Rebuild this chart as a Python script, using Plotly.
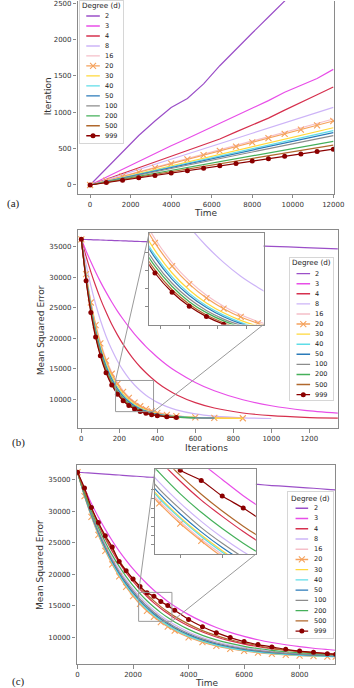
import plotly.graph_objects as go

W, H = 354, 688

# ---------------- data ----------------
DEGREES = ["2", "3", "4", "8", "16", "20", "30", "40", "50", "100", "200", "500", "999"]
COLORS = ['#9b4fc8', '#e84ee8', '#d6304e', '#cdb4f7', '#f5bfc9', '#f5a25d', '#ffd83a',
          '#5fdde8', '#2a7ab9', '#8c8c8c', '#45b05a', '#b0682d', '#8b0000']

# (a) Iteration vs Time
TIME_A = [0, 800, 1600, 2400, 3200, 4000, 4800, 5600, 6400, 7200, 8000, 8800, 9600, 10400, 11200, 12000]
A_D2 = [0, 225, 455, 680, 880, 1065, 1190, 1390, 1640, 1870, 2090, 2310, 2530, 2750, 2970, 3190]
A_D3 = [0, 110, 220, 325, 435, 540, 640, 745, 850, 950, 1050, 1160, 1275, 1370, 1465, 1590]
A_D4 = [0, 78, 155, 232, 310, 390, 468, 548, 632, 730, 825, 920, 1030, 1130, 1240, 1347]
A_D8 = [0, 70, 141, 213, 285, 356, 426, 498, 570, 640, 712, 784, 855, 926, 996, 1067]
A_D16 = [0, 60, 121, 181, 241, 302, 362, 424, 485, 545, 606, 666, 726, 786, 846, 907]
A_D20 = [0, 59, 118, 177, 236, 294, 353, 411, 470, 528, 587, 645, 704, 762, 821, 880]
A_D30 = [0, 52, 105, 157, 210, 262, 315, 367, 420, 472, 525, 577, 630, 682, 735, 787]
A_D40 = [0, 50, 100, 149, 199, 249, 299, 349, 398, 448, 498, 548, 598, 647, 697, 747]
A_D50 = [0, 48, 96, 144, 192, 240, 288, 336, 384, 432, 480, 528, 576, 624, 672, 720]
A_D100 = [0, 45, 91, 136, 181, 227, 272, 317, 363, 408, 453, 499, 544, 589, 635, 680]
A_D200 = [0, 40, 80, 120, 160, 200, 240, 280, 320, 360, 400, 440, 480, 520, 560, 600]
A_D500 = [0, 36, 73, 109, 146, 182, 219, 255, 292, 328, 365, 401, 438, 474, 511, 547]
A_D999 = [0, 33, 66, 99, 131, 164, 197, 230, 263, 296, 329, 362, 394, 427, 460, 493]

# (b) MSE vs Iterations
ITER_B = [0, 25, 50, 75, 100, 130, 160, 190, 220, 250, 280, 310, 340, 370, 400, 450, 500,
          600, 700, 850, 1000, 1175, 1350]
B_D2 = [36200, 36170, 36140, 36110, 36090, 36050, 36020, 35980, 35950, 35910, 35880, 35840,
        35810, 35770, 35740, 35680, 35630, 35510, 35400, 35220, 35050, 34850, 34650]
B_D3 = [36200, 34300, 32520, 30860, 29280, 27560, 25950, 24460, 23120, 21860, 20690, 19640,
        18650, 17750, 16900, 15640, 14560, 12780, 11410, 9940, 8960, 8220, 7760]
B_D4 = [36200, 33410, 30880, 28590, 26500, 24290, 22290, 20560, 19000, 17620, 16380, 15300,
        14360, 13500, 12740, 11650, 10770, 9470, 8590, 7780, 7340, 7070, 6930]
B_D8 = [36200, 32140, 28640, 25620, 23000, 20350, 18150, 16300, 14740, 13440, 12360, 11450,
        10680, 10060, 9520, 8820, 8300, 7630, 7260, 6990, 6880]
B_D16 = [36200, 30600, 26060, 22400, 19470, 16630, 14460, 12760, 11440, 10420, 9630, 9020,
         8540, 8170, 7890, 7550, 7325, 7082, 6979, 6921]
B_D20 = [36200, 30490, 25860, 22170, 19180, 16360, 14200, 12530, 11240, 10240, 9470, 8880,
         8420, 8070, 7805, 7486, 7278, 7058, 6967, 6918]
B_D30 = [36200, 30250, 25480, 21730, 18710, 15900, 13730, 12120, 10860, 9920, 9200, 8650,
         8230, 7910, 7670, 7390, 7210, 7026, 6950, 6912]
B_D40 = [36200, 30080, 25270, 21430, 18410, 15600, 13460, 11850, 10650, 9730, 9040, 8520,
         8120, 7820, 7600, 7337, 7172, 7008, 6941]
B_D50 = [36200, 29990, 25100, 21260, 18210, 15400, 13290, 11710, 10510, 9610, 8940, 8430,
         8050, 7760, 7550, 7304, 7152, 6997, 6938]
B_D100 = [36200, 29840, 24860, 20960, 17890, 15070, 12990, 11440, 10290, 9430, 8780, 8300,
          7950, 7680, 7480, 7255, 7117, 6982, 6929]
B_D200 = [36200, 29700, 24630, 20670, 17620, 14840, 12760, 11240, 10110, 9270, 8660, 8200,
          7860, 7610, 7427, 7219, 7093, 6970]
B_D500 = [36200, 29550, 24420, 20440, 17360, 14580, 12530, 11030, 9930, 9130, 8530, 8100,
          7780, 7550, 7375, 7184, 7070]
B_D999 = [36200, 29430, 24220, 20200, 17130, 14370, 12350, 10860, 9790, 9010, 8440, 8020,
          7720, 7495, 7334, 7157, 7052]

# (c) MSE vs Time
TIME_C = [0, 250, 500, 750, 1000, 1250, 1500, 1750, 2000, 2250, 2500, 2750, 3000, 3250, 3500,
          4000, 4500, 5000, 5500, 6000, 6500, 7000, 7500, 8000, 8500, 9000, 9300]
C_D2 = [36200, 36120, 36060, 35980, 35890, 35830, 35760, 35670, 35600, 35530, 35440, 35380,
        35310, 35220, 35150, 35010, 34840, 34700, 34560, 34390, 34260, 34090, 33960, 33800,
        33660, 33490, 33410]
C_D3 = [36200, 33600, 31240, 29080, 27120, 25310, 23670, 22210, 20840, 19610, 18480, 17450,
        16550, 15670, 14910, 13570, 12460, 11530, 10740, 10120, 9580, 9140, 8780, 8470, 8220,
        8020, 7910]
C_D4 = [36200, 33090, 30310, 27820, 25620, 23630, 21840, 20260, 18850, 17590, 16450, 15430,
        14550, 13730, 12990, 11760, 10800, 10010, 9390, 8890, 8490, 8170, 7910, 7710, 7550,
        7420, 7350]
C_D8 = [36200, 32740, 29710, 27010, 24670, 22550, 20700, 19090, 17650, 16390, 15270, 14280,
        13400, 12630, 11960, 10810, 9930, 9260, 8730, 8310, 7990, 7740, 7540, 7390, 7270,
        7180, 7130]
C_D16 = [36200, 32450, 29180, 26320, 23840, 21660, 19770, 18090, 16640, 15370, 14280, 13310,
         12480, 11740, 11100, 10060, 9250, 8650, 8180, 7830, 7560, 7360, 7200, 7080, 6990,
         6920, 6890]
C_D20 = [36200, 32420, 29120, 26230, 23720, 21540, 19650, 17970, 16520, 15260, 14160, 13220,
         12360, 11660, 11010, 9970, 9190, 8590, 8140, 7790, 7530, 7330, 7180, 7063, 6977,
         6910, 6877]
C_D30 = [36200, 32510, 29300, 26490, 24020, 21860, 19980, 18320, 16880, 15610, 14490, 13540,
         12690, 11920, 11270, 10210, 9390, 8770, 8280, 7910, 7630, 7410, 7250, 7120, 7020,
         6945, 6910]
C_D40 = [36200, 32510, 29270, 26440, 23960, 21800, 19890, 18230, 16790, 15520, 14430, 13460,
         12600, 11860, 11210, 10150, 9340, 8720, 8250, 7880, 7610, 7390, 7230, 7100, 7010,
         6940, 6900]
C_D50 = [36200, 32580, 29410, 26620, 24180, 22030, 20150, 18500, 17060, 15800, 14680, 13710,
         12860, 12120, 11450, 10390, 9550, 8920, 8430, 8050, 7760, 7540, 7370, 7235, 7135,
         7060, 7020]
C_D100 = [36200, 32640, 29530, 26790, 24380, 22260, 20380, 18770, 17330, 16030, 14940, 13940,
          13090, 12330, 11650, 10560, 9710, 9050, 8540, 8140, 7840, 7600, 7420, 7280, 7170,
          7090, 7050]
C_D200 = [36200, 32910, 29980, 27400, 25080, 23020, 21230, 19620, 18180, 16920, 15770, 14770,
          13890, 13100, 12400, 11220, 10280, 9560, 8990, 8530, 8180, 7900, 7670, 7500, 7360,
          7255, 7200]
C_D500 = [36200, 33180, 30490, 28050, 25860, 23920, 22170, 20580, 19180, 17920, 16770, 15750,
          14840, 14020, 13290, 12060, 11030, 10240, 9580, 9060, 8630, 8200, 7920, 7680, 7480,
          7300, 7210]
C_D999 = [36200, 33700, 30600, 28200, 26100, 24300, 22000, 20550, 19250, 18050, 17050, 16500,
          15650, 15000, 14250, 12800, 11650, 10700, 9920, 9280, 8800, 8430, 8050, 7770, 7580,
          7350, 7260]

SERIES_A = [A_D2, A_D3, A_D4, A_D8, A_D16, A_D20, A_D30, A_D40, A_D50, A_D100, A_D200, A_D500, A_D999]
SERIES_B = [B_D2, B_D3, B_D4, B_D8, B_D16, B_D20, B_D30, B_D40, B_D50, B_D100, B_D200, B_D500, B_D999]
SERIES_C = [C_D2, C_D3, C_D4, C_D8, C_D16, C_D20, C_D30, C_D40, C_D50, C_D100, C_D200, C_D500, C_D999]

TICKS_A_X = [0, 2000, 4000, 6000, 8000, 10000, 12000]
TICKS_A_Y = [0, 500, 1000, 1500, 2000, 2500]
TICKS_B_X = [0, 200, 400, 600, 800, 1000, 1200]
TICKS_MSE = [10000, 15000, 20000, 25000, 30000, 35000]
TICKS_BI_X = [200, 250, 300, 350]
TICKS_BI_Y = [9000, 10000, 11000, 12000]
TICKS_C_X = [0, 2000, 4000, 6000, 8000]
TICKS_CI_X = [2500, 3000]
TICKS_CI_Y = [13000, 13500, 14000, 14500, 15000, 15500, 16000]

# ---------------- layout geometry (pixels) ----------------
def dx(a, b):
    return [a / W, b / W]


def dy(top, bottom):
    return [1 - bottom / H, 1 - top / H]


A_DX, A_DY = dx(79, 344), dy(0, 193)
B_DX, B_DY = dx(79, 348), dy(229, 428)
BI_DX, BI_DY = dx(153, 271), dy(232, 324)
C_DX, C_DY = dx(78, 345), dy(465, 664)
CI_DX, CI_DY = dx(159, 263), dy(469, 554)

A_RX, A_RY = [-620, 12050], [-120, 2530]
B_RX, B_RY = [-20, 1352], [5260, 37780]
BI_RX, BI_RY = [180, 380], [8000, 13100]
C_RX, C_RY = [-35, 9285], [5714, 37302]
CI_RX, CI_RY = [2200, 3400], [12500, 17100]

LEGENDS = {
    'a': dict(box=(82, -4, 126, 142), title_y=9, first=19, step=10.0, line=(6, 20), text_x=23),
    'b': dict(box=(298, 257, 343, 400), title_y=5, first=16, step=10.1, line=(7, 21), text_x=24),
    'c': dict(box=(296, 492, 343, 638), title_y=6, first=16, step=10.25, line=(8, 21), text_x=25),
}

AXC = '#8a8a8a'
TXT = '#333333'
FONT = 'DejaVu Sans'

fig = go.Figure()


def marker_for(deg, color):
    if deg == '20':
        return 'lines+markers', dict(symbol='x-thin', size=6, color=color, line=dict(width=1.1, color=color))
    if deg == '999':
        return 'lines+markers', dict(symbol='circle', size=5, color=color, line=dict(width=0))
    return 'lines', None


def add_series(xs, series_list, xa, ya, shape):
    for deg, col, ys in zip(DEGREES, COLORS, series_list):
        mode, mk = marker_for(deg, col)
        kw = dict(x=xs[:len(ys)], y=ys, mode=mode, xaxis=xa, yaxis=ya, showlegend=False,
                  line=dict(color=col, width=1.2, shape=shape, smoothing=0.8 if shape == 'spline' else None),
                  hoverinfo='skip')
        if mk:
            kw['marker'] = mk
        fig.add_trace(go.Scatter(**kw))


add_series(TIME_A, SERIES_A, 'x', 'y', 'linear')
add_series(ITER_B, SERIES_B, 'x3', 'y3', 'spline')
add_series(ITER_B, SERIES_B, 'x4', 'y4', 'spline')
add_series(TIME_C, SERIES_C, 'x6', 'y6', 'spline')
add_series(TIME_C, SERIES_C, 'x7', 'y7', 'spline')

annotations = []


def add_legend(key, xa, ya):
    spec = LEGENDS[key]
    x0, y0, x1, y1 = spec['box']
    for i, (deg, col) in enumerate(zip(DEGREES, COLORS)):
        yy = spec['first'] + i * spec['step']
        lx0, lx1 = spec['line']
        fig.add_trace(go.Scatter(x=[lx0, lx1], y=[yy, yy], mode='lines', xaxis=xa, yaxis=ya,
                                 line=dict(color=col, width=1.4), showlegend=False, hoverinfo='skip'))
        mode, mk = marker_for(deg, col)
        if mk:
            fig.add_trace(go.Scatter(x=[(lx0 + lx1) / 2], y=[yy], mode='markers', xaxis=xa, yaxis=ya,
                                     marker=mk, showlegend=False, hoverinfo='skip'))
        annotations.append(dict(x=spec['text_x'], y=yy, xref=xa, yref=ya, text=deg, showarrow=False,
                                xanchor='left', yanchor='middle', font=dict(family=FONT, size=6.5, color='#222')))
    annotations.append(dict(x=(x1 - x0) / 2, y=spec['title_y'], xref=xa, yref=ya, text='Degree (d)',
                            showarrow=False, xanchor='center', yanchor='middle',
                            font=dict(family=FONT, size=7.2, color='#222')))


add_legend('a', 'x2', 'y2')
add_legend('b', 'x5', 'y5')
add_legend('c', 'x8', 'y8')


def main_axis(domain, rng, tickvals, anchor, mirror=True):
    return dict(domain=domain, range=rng, tickvals=tickvals, tickformat='d', showline=True,
                linecolor=AXC, linewidth=1.2, mirror=mirror, ticks='outside', ticklen=3.5,
                tickwidth=1, tickcolor=AXC, tickfont=dict(family=FONT, size=7, color=TXT),
                ticklabeloverflow='allow',
                showgrid=False, zeroline=False, anchor=anchor)


def inset_axis(domain, rng, tickvals, anchor):
    return dict(domain=domain, range=rng, tickvals=tickvals, showticklabels=False, showline=True,
                linecolor=AXC, linewidth=1.1, mirror=True, ticks='outside', ticklen=3, tickwidth=1,
                tickcolor=AXC, showgrid=False, zeroline=False, anchor=anchor)


def legend_axes(key, anchor_x, anchor_y):
    x0, y0, x1, y1 = LEGENDS[key]['box']
    ytop = max(y0, 0)
    xax = dict(domain=dx(x0, x1), range=[0, x1 - x0], visible=True, showticklabels=False, ticks='',
               showgrid=False, zeroline=False, showline=True, mirror=True, linecolor='#d6d6d6',
               linewidth=1, anchor=anchor_y, fixedrange=True)
    yax = dict(domain=dy(ytop, y1), range=[y1 - y0, ytop - y0], visible=True, showticklabels=False,
               ticks='', showgrid=False, zeroline=False, showline=True, mirror=True,
               linecolor='#d6d6d6', linewidth=1, anchor=anchor_x, fixedrange=True)
    return xax, yax


lax2, lay2 = legend_axes('a', 'x2', 'y2')
lax5, lay5 = legend_axes('b', 'x5', 'y5')
lax8, lay8 = legend_axes('c', 'x8', 'y8')


def p2d(p, dom, rng):
    return rng[0] + (p - dom[0]) / (dom[1] - dom[0]) * (rng[1] - rng[0])


shapes = []
ZC = '#9a9a9a'
for (mx, my, rx, ry, idx, idy, mdx, mdy) in [
        ('x3', 'y3', BI_RX, BI_RY, BI_DX, BI_DY, (B_DX, B_RX), (B_DY, B_RY)),
        ('x6', 'y6', CI_RX, CI_RY, CI_DX, CI_DY, (C_DX, C_RX), (C_DY, C_RY))]:
    shapes.append(dict(type='rect', xref=mx, yref=my, x0=rx[0], x1=rx[1], y0=ry[0], y1=ry[1],
                       line=dict(color=ZC, width=1), layer='above'))
    shapes.append(dict(type='line', xref=mx, yref=my, x0=rx[0], y0=ry[1],
                       x1=p2d(idx[0], *mdx), y1=p2d(idy[1], *mdy), line=dict(color=ZC, width=1), layer='above'))
    shapes.append(dict(type='line', xref=mx, yref=my, x0=rx[1], y0=ry[0],
                       x1=p2d(idx[1], *mdx), y1=p2d(idy[0], *mdy), line=dict(color=ZC, width=1), layer='above'))


def pa(text, px, py, size=9, angle=0, family=FONT, color=TXT):
    annotations.append(dict(x=px / W, y=1 - py / H, xref='paper', yref='paper', text=text, showarrow=False,
                            xanchor='center', yanchor='middle', textangle=angle,
                            font=dict(family=family, size=size, color=color)))


pa('Iteration', 48, 96, angle=-90)
pa('Time', 211, 212)
pa('Mean Squared Error', 41, 330, angle=-90)
pa('Iterations', 212, 448)
pa('Mean Squared Error', 40, 565, angle=-90)
pa('Time', 212, 683)
pa('(a)', 13, 203, size=11, family='Liberation Serif', color='#222')
pa('(b)', 18, 442, size=11, family='Liberation Serif', color='#222')
pa('(c)', 18, 681, size=11, family='Liberation Serif', color='#222')

fig.update_layout(
    width=W, height=H, margin=dict(l=0, r=0, t=0, b=0), autosize=False,
    paper_bgcolor='white', plot_bgcolor='white', showlegend=False,
    xaxis=main_axis(A_DX, A_RX, TICKS_A_X, 'y', mirror=False),
    yaxis=main_axis(A_DY, A_RY, TICKS_A_Y, 'x'),
    xaxis2=lax2, yaxis2=lay2,
    xaxis3=main_axis(B_DX, B_RX, TICKS_B_X, 'y3'),
    yaxis3=main_axis(B_DY, B_RY, TICKS_MSE, 'x3'),
    xaxis4=inset_axis(BI_DX, BI_RX, TICKS_BI_X, 'y4'),
    yaxis4=inset_axis(BI_DY, BI_RY, TICKS_BI_Y, 'x4'),
    xaxis5=lax5, yaxis5=lay5,
    xaxis6=main_axis(C_DX, C_RX, TICKS_C_X, 'y6'),
    yaxis6=main_axis(C_DY, C_RY, TICKS_MSE, 'x6'),
    xaxis7=inset_axis(CI_DX, CI_RX, TICKS_CI_X, 'y7'),
    yaxis7=inset_axis(CI_DY, CI_RY, TICKS_CI_Y, 'x7'),
    xaxis8=lax8, yaxis8=lay8,
    shapes=shapes, annotations=annotations,
)

fig.write_html("out.html")
